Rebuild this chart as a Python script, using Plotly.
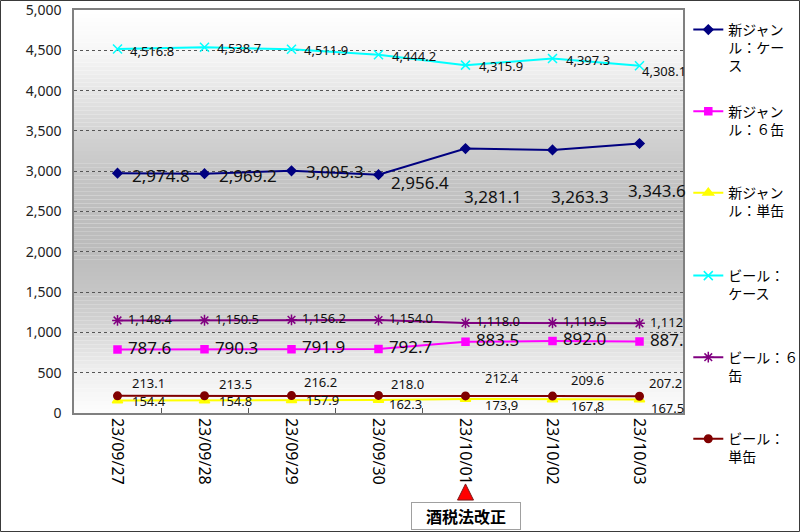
import plotly.graph_objects as go

# ---------------- data ----------------
dates = ["23/09/27", "23/09/28", "23/09/29", "23/09/30", "23/10/01", "23/10/02", "23/10/03"]
shin_case = [2974.8, 2969.2, 3005.3, 2956.4, 3281.1, 3263.3, 3343.6]
shin_6 = [787.6, 790.3, 791.9, 792.7, 883.5, 892.0, 887.2]
shin_single = [154.4, 154.8, 157.9, 162.3, 173.9, 167.8, 167.5]
beer_case = [4516.8, 4538.7, 4511.9, 4444.2, 4315.9, 4397.3, 4308.1]
beer_6 = [1148.4, 1150.5, 1156.2, 1154.0, 1118.0, 1119.5, 1112.7]
beer_single = [213.1, 213.5, 216.2, 218.0, 212.4, 209.6, 207.2]
names = [
    "新ジャン<br>ル：ケー<br>ス",
    "新ジャン<br>ル：６缶<br>\u00a0",
    "新ジャン<br>ル：単缶<br>\u00a0",
    "ビール：<br>ケース<br>\u00a0",
    "ビール：６<br>缶<br>\u00a0",
    "ビール：<br>単缶<br>\u00a0",
]
event_label = "酒税法改正"
event_date = "23/10/01"
y_ticks = list(range(0, 5001, 500))

# ---------------- styles ----------------
NUM_FONT = "Noto Sans"
JP_FONT = "Noto Sans CJK JP"
# off: per-point (dx, dy) pixel offsets for annotation labels; None -> clipped trace text
series = [
    dict(y=shin_case, color="#000080", symbol="diamond", size=7, lsize=17,
         off=[(13, 2), (13, 2), (13, 1), (11, 8), (-3, 48), (-3, 47), (-13, 47)]),
    dict(y=shin_6, color="#FF00FF", symbol="square", size=7, lsize=17, off=None),
    dict(y=shin_single, color="#FFFF00", symbol="triangle-up", size=9, lsize=13,
         off=[(13, 0), (13, 0), (13, 0), (9, 4), (18, 6), (17, 7), (10, 8)]),
    dict(y=beer_case, color="#00FFFF", symbol="x-thin-open", size=9, lsize=13,
         off=[(11, 2), (11, 1), (11, 1), (12, 1), (12, 1), (12, 1), (1, 5)]),
    dict(y=beer_6, color="#800080", symbol="asterisk-open", size=9, lsize=13, off=None),
    dict(y=beer_single, color="#800000", symbol="circle", size=7.5, lsize=13,
         off=[(13, -13), (13, -12), (11, -14), (11, -11), (18, -18), (17, -16), (8, -13)]),
]

fig = go.Figure()
annotations = []
for i, s in enumerate(series):
    fig.add_trace(go.Scatter(
        x=dates, y=s["y"], name=names[i], legendgroup=str(i),
        legend="legend" if i < 3 else "legend2",
        mode="lines+markers",
        line=dict(color=s["color"], width=2),
        marker=dict(symbol=s["symbol"], size=s["size"], color=s["color"],
                    line=dict(color=s["color"], width=1.5)),
        hoverinfo="skip",
    ))
    labels = [f"{v:,.1f}" for v in s["y"]]
    if s["off"] is None:
        # labels drawn as trace text so they are clipped at the plot edge
        fig.add_trace(go.Scatter(
            x=dates, y=s["y"], mode="markers+text", text=labels,
            textposition="middle right", cliponaxis=True, showlegend=False,
            marker=dict(size=15, opacity=0),
            textfont=dict(family=NUM_FONT, size=s["lsize"], color="#111111"),
            hoverinfo="skip", legend="legend" if i < 3 else "legend2",
        ))
        continue
    for j, (d, v) in enumerate(zip(dates, s["y"])):
        dx, dy = s["off"][j]
        annotations.append(dict(
            x=d, y=v, xref="x", yref="y", text=labels[j], showarrow=False,
            xanchor="left", yanchor="middle", xshift=dx, yshift=-dy, borderpad=0,
            font=dict(family=NUM_FONT, size=s["lsize"], color="#111111"),
        ))

# Event box
n = len(dates)
ev_frac = (dates.index(event_date) + 0.5) / n
annotations.append(dict(
    x=ev_frac, y=-0.2556, xref="paper", yref="paper", text=f"<b>{event_label}</b>",
    showarrow=False, xanchor="center", yanchor="middle", width=106, height=24,
    bgcolor="white", bordercolor="#A0A0A0", borderwidth=1, borderpad=1,
    font=dict(family=JP_FONT, size=16, color="#000000"),
))

shapes = []
# gradient background bands
stops = [(5000, 255), (4500, 247), (4000, 230), (3500, 212), (3000, 198), (2500, 190),
         (2000, 188), (1500, 197), (1000, 216), (500, 239), (0, 253)]
def gray_at(v):
    for (v1, g1), (v2, g2) in zip(stops[:-1], stops[1:]):
        if v2 <= v <= v1:
            t = (v1 - v) / (v1 - v2)
            return g1 + (g2 - g1) * t
    return 255
step = 50
for k in range(0, 5000, step):
    g = int(round(gray_at(k + step / 2)))
    shapes.append(dict(type="rect", xref="x domain", yref="y", x0=0, x1=1, y0=k, y1=k + step,
                       fillcolor=f"rgb({g},{g},{g})", line=dict(width=0), layer="below"))

# red triangle marker under event date
hw = 8 / 609
shapes.append(dict(type="path", xref="paper", yref="paper",
                   path=f"M {ev_frac-hw},-0.216 L {ev_frac},-0.176 L {ev_frac+hw},-0.216 Z",
                   fillcolor="#FF0000", line=dict(color="#7A1A1A", width=1), layer="above"))
# outer frame
shapes.append(dict(type="rect", xref="paper", yref="paper",
                   x0=(0.5 - 74) / 609, x1=(799.5 - 74) / 609,
                   y0=(413 - 531.5) / 403, y1=(413 - 0.5) / 403,
                   line=dict(color="#3A3A3A", width=1), fillcolor="rgba(0,0,0,0)", layer="above"))

legend_common = dict(x=1.0087, xanchor="left", yanchor="top",
                     font=dict(family=JP_FONT, size=14, color="#000000"),
                     valign="top", itemwidth=30, tracegroupgap=24,
                     bgcolor="rgba(0,0,0,0)", traceorder="grouped")

fig.update_layout(
    width=800, height=532,
    margin=dict(l=74, r=117, t=10, b=119, autoexpand=False),
    paper_bgcolor="white", plot_bgcolor="white",
    showlegend=True,
    legend=dict(y=(413 - 14) / 403, **legend_common),
    legend2=dict(y=(413 - 260) / 403, **legend_common),
    annotations=annotations,
    shapes=shapes,
    xaxis=dict(type="category", range=[-0.5, n - 0.5], tickangle=90,
               ticks="inside", tickson="boundaries", ticklen=5, tickcolor="#555555",
               showgrid=False, showline=True, linecolor="#808080", linewidth=1.5, mirror=True,
               tickfont=dict(family=NUM_FONT, size=16, color="#000000")),
    yaxis=dict(range=[0, 5000], tickvals=y_ticks, tickformat=",d",
               showgrid=True, gridcolor="#555555", gridwidth=1, griddash="dot",
               showline=True, linecolor="#808080", linewidth=1.5, mirror=True,
               ticks="", ticklabelstandoff=8, zeroline=False, ticklabeloverflow="allow",
               tickfont=dict(family=NUM_FONT, size=14, color="#222222")),
)

fig.write_html("out.html")
